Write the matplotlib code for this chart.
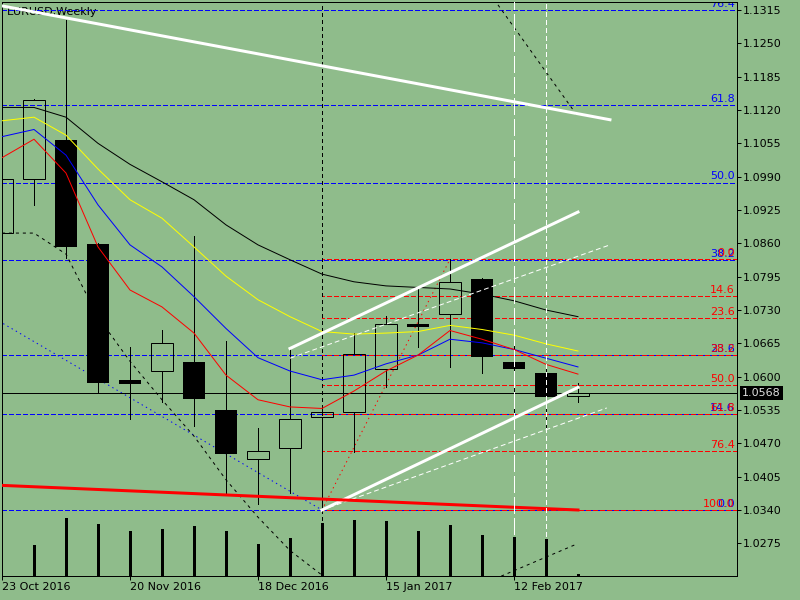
import matplotlib
matplotlib.use("Agg")
import matplotlib.pyplot as plt

plt.rcParams['lines.scale_dashes'] = False
plt.rcParams['font.family'] = ['DejaVu Sans']

BG = "#8fbc8b"

title = "EURUSD,Weekly"
bars = list(range(19))
date_bars = [0, 4, 8, 12, 16]
date_labels = ["23 Oct 2016", "20 Nov 2016", "18 Dec 2016", "15 Jan 2017", "12 Feb 2017"]

# weekly OHLC
opens = [1.0880, 1.0985, 1.1062, 1.0859, 1.0594, 1.0611, 1.0628, 1.0535, 1.0439, 1.0460,
         1.0521, 1.0531, 1.0614, 1.0703, 1.0722, 1.0790, 1.0628, 1.0608, 1.0563]
highs = [1.0985, 1.1141, 1.1296, 1.0860, 1.0657, 1.0691, 1.0874, 1.0670, 1.0500, 1.0655,
         1.0536, 1.0685, 1.0718, 1.0770, 1.0829, 1.0793, 1.0681, 1.0619, 1.0587]
lows = [1.0880, 1.0935, 1.0831, 1.0568, 1.0517, 1.0550, 1.0504, 1.0369, 1.0351, 1.0373,
        1.0340, 1.0454, 1.0580, 1.0657, 1.0619, 1.0607, 1.0529, 1.0494, 1.0551]
closes = [1.0985, 1.1139, 1.0853, 1.0587, 1.0586, 1.0665, 1.0557, 1.0450, 1.0456, 1.0517,
          1.0532, 1.0644, 1.0702, 1.0697, 1.0785, 1.0639, 1.0614, 1.0561, 1.0568]
volumes = [480, 310, 577, 520, 450, 470, 500, 450, 320, 380,
           527, 560, 550, 450, 510, 410, 390, 370, 20]

# moving averages
ma_black = [1.1125, 1.1125, 1.1106, 1.1055, 1.1014, 1.0980, 1.0945, 1.0896, 1.0857, 1.0828,
            1.0800, 1.0785, 1.0777, 1.0774, 1.0771, 1.0761, 1.0748, 1.0730, 1.0717]
ma_yellow = [1.1099, 1.1106, 1.1071, 1.1005, 1.0945, 1.0909, 1.0853, 1.0796, 1.0750, 1.0717,
             1.0688, 1.0683, 1.0685, 1.0688, 1.0700, 1.0692, 1.0681, 1.0664, 1.0650]
ma_blue = [1.1068, 1.1082, 1.1032, 1.0935, 1.0857, 1.0814, 1.0756, 1.0694, 1.0637, 1.0611,
           1.0594, 1.0603, 1.0625, 1.0642, 1.0673, 1.0666, 1.0653, 1.0636, 1.0619]
ma_red = [1.1027, 1.1063, 1.0997, 1.0853, 1.0769, 1.0736, 1.0685, 1.0603, 1.0555, 1.0541,
          1.0538, 1.0572, 1.0611, 1.0642, 1.0690, 1.0673, 1.0653, 1.0624, 1.0605]

# dotted black band
band_bars = [0, 1, 2, 3, 4, 5, 6, 7, 8, 9, 10]
band_values = [1.0880, 1.0880, 1.0839, 1.0716, 1.0630, 1.0555, 1.0484, 1.0399, 1.0326, 1.0261, 1.0213]
band_up_bars = [15.5, 18.0]
band_up_prices = [1.1325, 1.1107]
band_dn_bars = [15.6, 17.9]
band_dn_prices = [1.0211, 1.0272]

# fibonacci retracements
fib_levels = [0.0, 14.6, 23.6, 38.2, 50.0, 61.8, 76.4, 100.0]
blue_fib_bars = [-25, 10]
blue_fib_prices = [1.1617, 1.0340]
red_fib_bars = [10, 14]
red_fib_prices = [1.0340, 1.0829]

# trend lines
white_top_bars = [0, 19]
white_top_prices = [1.1323, 1.1101]
chan_up_bars = [9, 18]
chan_up_prices = [1.0655, 1.0921]
chan_dn_bars = [10, 18]
chan_dn_prices = [1.0340, 1.0579]
mid_up_bars = [9, 19]
mid_up_prices = [1.0636, 1.0857]
mid_dn_bars = [10, 18.9]
mid_dn_prices = [1.0340, 1.0539]
red_trend_bars = [0, 18]
red_trend_prices = [1.0388, 1.0340]

last_price = 1.0568
price_ticks = [1.0275, 1.0340, 1.0405, 1.0470, 1.0535, 1.0600, 1.0665, 1.0730, 1.0795,
               1.0860, 1.0925, 1.0990, 1.1055, 1.1120, 1.1185, 1.1250, 1.1315]

PX = 0.72  # one pixel in points

fig = plt.figure(figsize=(8, 6), dpi=100, facecolor=BG)
ax = fig.add_axes([2 / 800, 24 / 600, 735 / 800, 574 / 600])
ax.set_facecolor(BG)
ax.set_xlim(0, 22.97)
ax.set_ylim(1.02113, 1.13306)

# volumes on an overlay axis
ax2 = ax.twinx()
ax2.set_ylim(0, max(volumes) * 574 / 57.7)
ax2.vlines(bars[1:], 0, volumes[1:], color="black", lw=3 * PX, antialiased=False)
ax2.set_axis_off()

# fib levels
def fib_price(prices, lvl):
    return prices[1] + (prices[0] - prices[1]) * lvl / 100.0

lbl_tr = ax.get_yaxis_transform()
for lvl in fib_levels:
    p = fib_price(blue_fib_prices, lvl)
    ax.axhline(p, color="#0000ff", lw=PX, ls=(0, (3, 2)), antialiased=False, zorder=1.5)
    ax.text(0.997, p + 0.0006, "%.1f" % lvl, color="#0000ff", fontsize=8, ha="right",
            va="baseline", transform=lbl_tr, clip_on=True, zorder=1.5)
for lvl in fib_levels:
    p = fib_price(red_fib_prices, lvl)
    ax.hlines(p, red_fib_bars[0], 23, color="#ff0000", lw=PX, ls=(1.5, (3, 2)),
              antialiased=False, zorder=1.6)
    ax.text(0.997, p + 0.0006, "%.1f" % lvl, color="#ff0000", fontsize=8, ha="right",
            va="baseline", transform=lbl_tr, clip_on=True, zorder=1.6)
ax.plot(blue_fib_bars, blue_fib_prices, color="#0000ff", lw=PX, ls=(0, (1, 2.5)), zorder=1.7)
ax.plot(red_fib_bars, red_fib_prices, color="#ff0000", lw=PX, ls=(0, (1, 2.5)), zorder=1.7)

ax.axhline(last_price, color="black", lw=PX, antialiased=False, zorder=1.8)
ax.axvline(10, color="black", lw=PX, ls=(0, (2.2, 2.2)), antialiased=False, zorder=1.8)

# candles
w = 0.68
for i in bars:
    o, h, l, c = opens[i], highs[i], lows[i], closes[i]
    top, bot = max(o, c), min(o, c)
    ax.vlines(i, top, h, color="black", lw=PX, antialiased=False, zorder=2)
    ax.vlines(i, l, bot, color="black", lw=PX, antialiased=False, zorder=2)
    if c >= o:
        ax.bar(i, top - bot, bottom=bot, width=w, facecolor="none", edgecolor="black",
               lw=PX, zorder=2)
    else:
        ax.bar(i, top - bot, bottom=bot, width=w, color="black", lw=0, zorder=2)

ax.plot(bars, ma_black, color="black", lw=PX, zorder=3)
ax.plot(bars, ma_yellow, color="#ffff00", lw=PX, zorder=3)
ax.plot(bars, ma_blue, color="#0000ff", lw=PX, zorder=3)
ax.plot(bars, ma_red, color="#ff0000", lw=PX, zorder=3)

ax.plot(band_bars, band_values, color="black", lw=PX, ls=(0, (2.2, 2.8)), zorder=3)
ax.plot(band_up_bars, band_up_prices, color="black", lw=PX, ls=(0, (2.2, 2.8)), zorder=3)
ax.plot(band_dn_bars, band_dn_prices, color="black", lw=PX, ls=(0, (2.2, 2.8)), zorder=3)

ax.text(5 / 735, 1 - 10 / 574, title, transform=ax.transAxes, fontsize=8, va="center",
        color="black", zorder=1)

ax.plot(white_top_bars, white_top_prices, color="white", lw=3 * PX, zorder=4)
ax.plot(chan_up_bars, chan_up_prices, color="white", lw=3 * PX, zorder=4)
ax.plot(chan_dn_bars, chan_dn_prices, color="white", lw=3 * PX, zorder=4)
ax.plot(mid_up_bars, mid_up_prices, color="white", lw=PX, ls=(0, (3.5, 2.2)), zorder=4)
ax.plot(mid_dn_bars, mid_dn_prices, color="white", lw=PX, ls=(0, (3.5, 2.2)), zorder=4)
ax.plot(red_trend_bars, red_trend_prices, color="#ff0000", lw=3 * PX, zorder=4)
ax.axvline(16, color="white", lw=PX, ls=(0, (12, 3.5)), antialiased=False, zorder=4)
ax.axvline(17, color="white", lw=PX, ls=(0, (3, 2.5)), antialiased=False, zorder=4)

# axes styling
ax.yaxis.tick_right()
ax.set_yticks(price_ticks)
ax.set_yticklabels(["%.4f" % p for p in price_ticks])
ax.set_xticks(date_bars)
ax.set_xticklabels(date_labels)
for t in ax.get_xticklabels():
    t.set_ha("left")
ax.tick_params(axis="both", labelsize=8, colors="black", length=3, width=PX, pad=1.5)
for s in ax.spines.values():
    s.set_color("black")
    s.set_linewidth(PX)

ax.text(1.0 + 5 / 735, last_price, "%.4f" % last_price, transform=lbl_tr, fontsize=8,
        color="#e0e0e0", ha="left", va="center", clip_on=False, zorder=6,
        bbox=dict(boxstyle="square,pad=0.2", fc="black", ec="none"))

fig.savefig("out.png", dpi=100, facecolor=BG)
